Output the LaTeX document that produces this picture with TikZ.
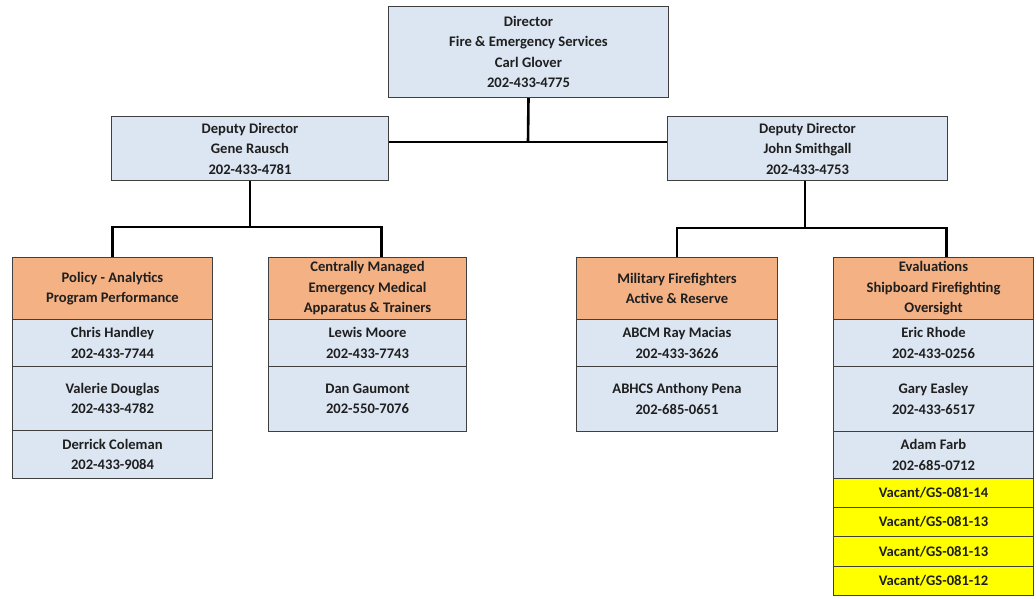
\documentclass[tikz,border=0pt]{standalone}
\usepackage{fontspec}
\setmainfont{Carlito}
\definecolor{lb}{HTML}{DCE6F2}
\definecolor{org}{HTML}{F4B183}
\definecolor{yel}{HTML}{FFFF00}
\definecolor{bordc}{HTML}{3F3F3F}
\newcommand{\chartfont}{\fontsize{14.6}{20.5}\selectfont\bfseries}
\begin{document}
\begin{tikzpicture}[x=1pt,y=-1pt,
  box/.style={draw=bordc, line width=1pt, fill=lb, align=center, inner sep=0pt,
    font=\chartfont, text=black!88, anchor=north west},
  hdr/.style={box, fill=org},
  vac/.style={box, fill=yel},
  conn/.style={line width=2.6pt, draw=black}]
\useasboundingbox (0,0) rectangle (1036,598);
\fill[white] (0,0) rectangle (1036,598);

% top level
\node[box, minimum width=280pt, minimum height=91pt] (dir) at (388,6)
  {Director\\Fire \& Emergency Services\\Carl Glover\\202-433-4775};
\node[box, minimum width=277pt, minimum height=64pt] (depL) at (111,116)
  {Deputy Director\\Gene Rausch\\202-433-4781};
\node[box, minimum width=280pt, minimum height=64pt] (depR) at (667,116)
  {Deputy Director\\John Smithgall\\202-433-4753};

% group A
\node[hdr, minimum width=200pt, minimum height=62pt] (A) at (12,257)
  {Policy - Analytics\\Program Performance};
\node[box, minimum width=200pt, minimum height=47pt] (A1) at (12,319)
  {Chris Handley\\202-433-7744};
\node[box, minimum width=200pt, minimum height=64pt] (A2) at (12,366)
  {Valerie Douglas\\202-433-4782};
\node[box, minimum width=200pt, minimum height=48pt] (A3) at (12,430)
  {Derrick Coleman\\202-433-9084};

% group B
\node[hdr, minimum width=198pt, minimum height=62pt] (B) at (268,257)
  {Centrally Managed\\Emergency Medical\\Apparatus \& Trainers};
\node[box, minimum width=198pt, minimum height=47pt] (B1) at (268,319)
  {Lewis Moore\\202-433-7743};
\node[box, minimum width=198pt, minimum height=65pt] (B2) at (268,366)
  {Dan Gaumont\\202-550-7076};

% group C
\node[hdr, minimum width=201pt, minimum height=62pt] (C) at (576,257)
  {Military Firefighters\\Active \& Reserve};
\node[box, minimum width=201pt, minimum height=47pt] (C1) at (576,319)
  {ABCM Ray Macias\\202-433-3626};
\node[box, minimum width=201pt, minimum height=65pt] (C2) at (576,366)
  {ABHCS Anthony Pena\\202-685-0651};

% group D
\node[hdr, minimum width=200pt, minimum height=62pt] (D) at (833,257)
  {Evaluations\\Shipboard Firefighting\\Oversight};
\node[box, minimum width=200pt, minimum height=47pt] (D1) at (833,319)
  {Eric Rhode\\202-433-0256};
\node[box, minimum width=200pt, minimum height=65pt] (D2) at (833,366)
  {Gary Easley\\202-433-6517};
\node[box, minimum width=200pt, minimum height=47pt] (D3) at (833,431)
  {Adam Farb\\202-685-0712};
\node[vac, minimum width=200pt, minimum height=29pt] (V1) at (833,478) {Vacant/GS-081-14};
\node[vac, minimum width=200pt, minimum height=29pt] (V2) at (833,507) {Vacant/GS-081-13};
\node[vac, minimum width=200pt, minimum height=30pt] (V3) at (833,536) {Vacant/GS-081-13};
\node[vac, minimum width=200pt, minimum height=29pt] (V4) at (833,566) {Vacant/GS-081-12};

% connectors
\coordinate (hub) at (528,142);
\coordinate (jL) at (250,227);
\coordinate (jR) at (805,228);
\draw[conn] (dir.south) -- (hub);
\draw[conn] (depL.east |- hub) -- (depR.west |- hub);
\draw[conn] (depL.south -| jL) -- (jL);
\draw[conn] (A.north) |- (jL) -| ([xshift=14pt]B.north);
\draw[conn] (depR.south -| jR) -- (jR);
\draw[conn] (C.north) |- (jR) -| ([xshift=13pt]D.north);
\end{tikzpicture}
\end{document}
